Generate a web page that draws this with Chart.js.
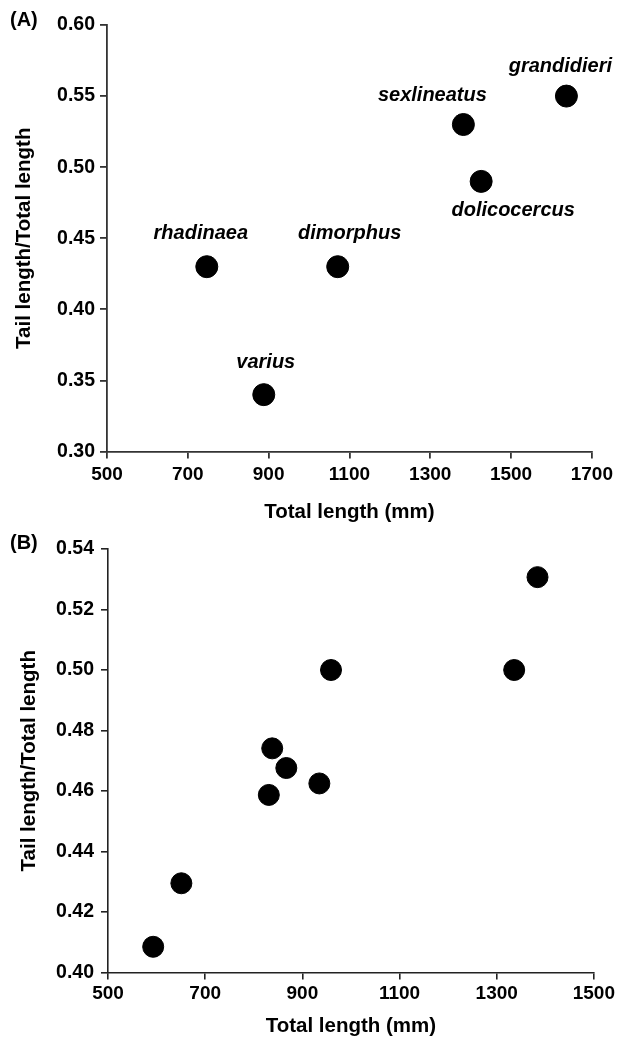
<!DOCTYPE html>
<html>
<head>
<meta charset="utf-8">
<script src="https://cdn.jsdelivr.net/npm/chart.js@4.4.1/dist/chart.umd.min.js"></script>
<style>
  body { margin: 0; background: #fff; }
  #wrapA { position: absolute; left: 0; top: 0; width: 618px; height: 530px; }
  #wrapB { position: absolute; left: 0; top: 530px; width: 618px; height: 508px; }
</style>
</head>
<body>
<div id="wrapA"><canvas id="chartA"></canvas></div>
<div id="wrapB"><canvas id="chartB"></canvas></div>
<script>
// 🔹 DATA panel (A)
const speciesA = ["rhadinaea", "varius", "dimorphus", "sexlineatus", "dolicocercus", "grandidieri"];
const totalLenA = [747, 888, 1071, 1382, 1426, 1637];
const ratioA = [0.43, 0.34, 0.43, 0.53, 0.49, 0.55];
const xTicksA = [500, 700, 900, 1100, 1300, 1500, 1700];
const yTicksA = [0.30, 0.35, 0.40, 0.45, 0.50, 0.55, 0.60];

// 🔹 DATA panel (B)
const totalLenB = [593, 651, 831, 838, 867, 935, 959, 1336, 1384];
const ratioB = [0.4085, 0.4295, 0.4587, 0.4741, 0.4676, 0.4625, 0.500, 0.500, 0.5307];
const xTicksB = [500, 700, 900, 1100, 1300, 1500];
const yTicksB = [0.40, 0.42, 0.44, 0.46, 0.48, 0.50, 0.52, 0.54];

const FONT = "'Liberation Sans', Arial, sans-serif";

// label offsets from each point (px), keyed by name
const labelShift = {
  rhadinaea: [-6, -33],
  varius: [2, -32],
  dimorphus: [12, -33],
  sexlineatus: [-31, -29],
  dolicocercus: [32, 29],
  grandidieri: [-6, -30]
};

// 🔥 point labels + panel letter
const labelPlugin = {
  id: "labels",
  afterDatasetsDraw(chart, args, opts) {
    const ctx = chart.ctx;
    ctx.save();
    ctx.fillStyle = "#000";
    ctx.textAlign = "center";
    ctx.textBaseline = "middle";
    if (opts.names) {
      ctx.font = "italic bold 20px " + FONT;
      chart.getDatasetMeta(0).data.forEach((pt, i) => {
        const s = labelShift[opts.names[i]];
        ctx.fillText(opts.names[i], pt.x + s[0], pt.y + s[1]);
      });
    }
    ctx.font = "bold 20px " + FONT;
    ctx.textAlign = "left";
    ctx.fillText(opts.panel, 10, opts.panelY);
    ctx.restore();
  }
};

function makeChart(id, xs, ys, xTicks, yTicks, cfg) {
  const axisColor = cfg.axisColor;
  return new Chart(document.getElementById(id), {
    type: "scatter",
    data: {
      datasets: [{
        data: xs.map((x, i) => ({ x: x, y: ys[i] })),
        backgroundColor: "#000",
        borderColor: "#000",
        pointRadius: cfg.radius,
        pointHoverRadius: cfg.radius
      }]
    },
    options: {
      responsive: true,
      maintainAspectRatio: false,
      animation: false,
      layout: { padding: { left: 0, right: cfg.padRight, top: cfg.padTop, bottom: 0 } },
      plugins: {
        legend: { display: false },
        tooltip: { enabled: false },
        labels: { names: cfg.names, panel: cfg.panel, panelY: cfg.panelY }
      },
      scales: {
        x: {
          type: "linear",
          min: xTicks[0],
          max: xTicks[xTicks.length - 1],
          afterBuildTicks: s => { s.ticks = xTicks.map(v => ({ value: v })); },
          afterFit: s => { s.height = cfg.xHeight; },
          grid: { display: true, drawOnChartArea: false, drawTicks: true, tickLength: 7, color: axisColor, lineWidth: cfg.lw },
          border: { display: true, color: axisColor, width: cfg.lw },
          ticks: {
            color: "#000",
            padding: cfg.xPad,
            maxRotation: 0,
            font: { family: FONT, size: 19, weight: "bold" },
            callback: v => String(v)
          },
          title: {
            display: true,
            text: "Total length (mm)",
            color: "#000",
            padding: { top: 0, bottom: cfg.xTitlePad },
            font: { family: FONT, size: 20.5, weight: "bold", lineHeight: 1 }
          }
        },
        y: {
          type: "linear",
          min: yTicks[0],
          max: yTicks[yTicks.length - 1],
          afterBuildTicks: s => { s.ticks = yTicks.map(v => ({ value: v })); },
          afterFit: s => { s.width = cfg.yWidth; },
          grid: { display: true, drawOnChartArea: false, drawTicks: true, tickLength: 7, color: axisColor, lineWidth: cfg.lw },
          border: { display: true, color: axisColor, width: cfg.lw },
          ticks: {
            color: "#000",
            padding: cfg.yPad,
            font: { family: FONT, size: 19.5, weight: "bold" },
            callback: v => v.toFixed(2)
          },
          title: {
            display: true,
            text: "Tail length/Total length",
            color: "#000",
            padding: { top: cfg.yTitlePad, bottom: 0 },
            font: { family: FONT, size: 20.5, weight: "bold", lineHeight: 1 }
          }
        }
      }
    },
    plugins: [labelPlugin]
  });
}

// 🔥 CHARTS
makeChart("chartA", totalLenA, ratioA, xTicksA, yTicksA, {
  names: speciesA, panel: "(A)", panelY: 20,
  radius: 11, padRight: 25, padTop: 25, xHeight: 78.5, yWidth: 107,
  xPad: 5, yPad: 5, xTitlePad: 7, yTitlePad: 14, lw: 1.8, axisColor: "#333"
});

makeChart("chartB", totalLenB, ratioB, xTicksB, yTicksB, {
  names: null, panel: "(B)", panelY: 13,
  radius: 10.5, padRight: 23, padTop: 19, xHeight: 65.5, yWidth: 108,
  xPad: 3, yPad: 7, xTitlePad: 1, yTitlePad: 19, lw: 1.6, axisColor: "#222"
});
</script>
</body>
</html>
